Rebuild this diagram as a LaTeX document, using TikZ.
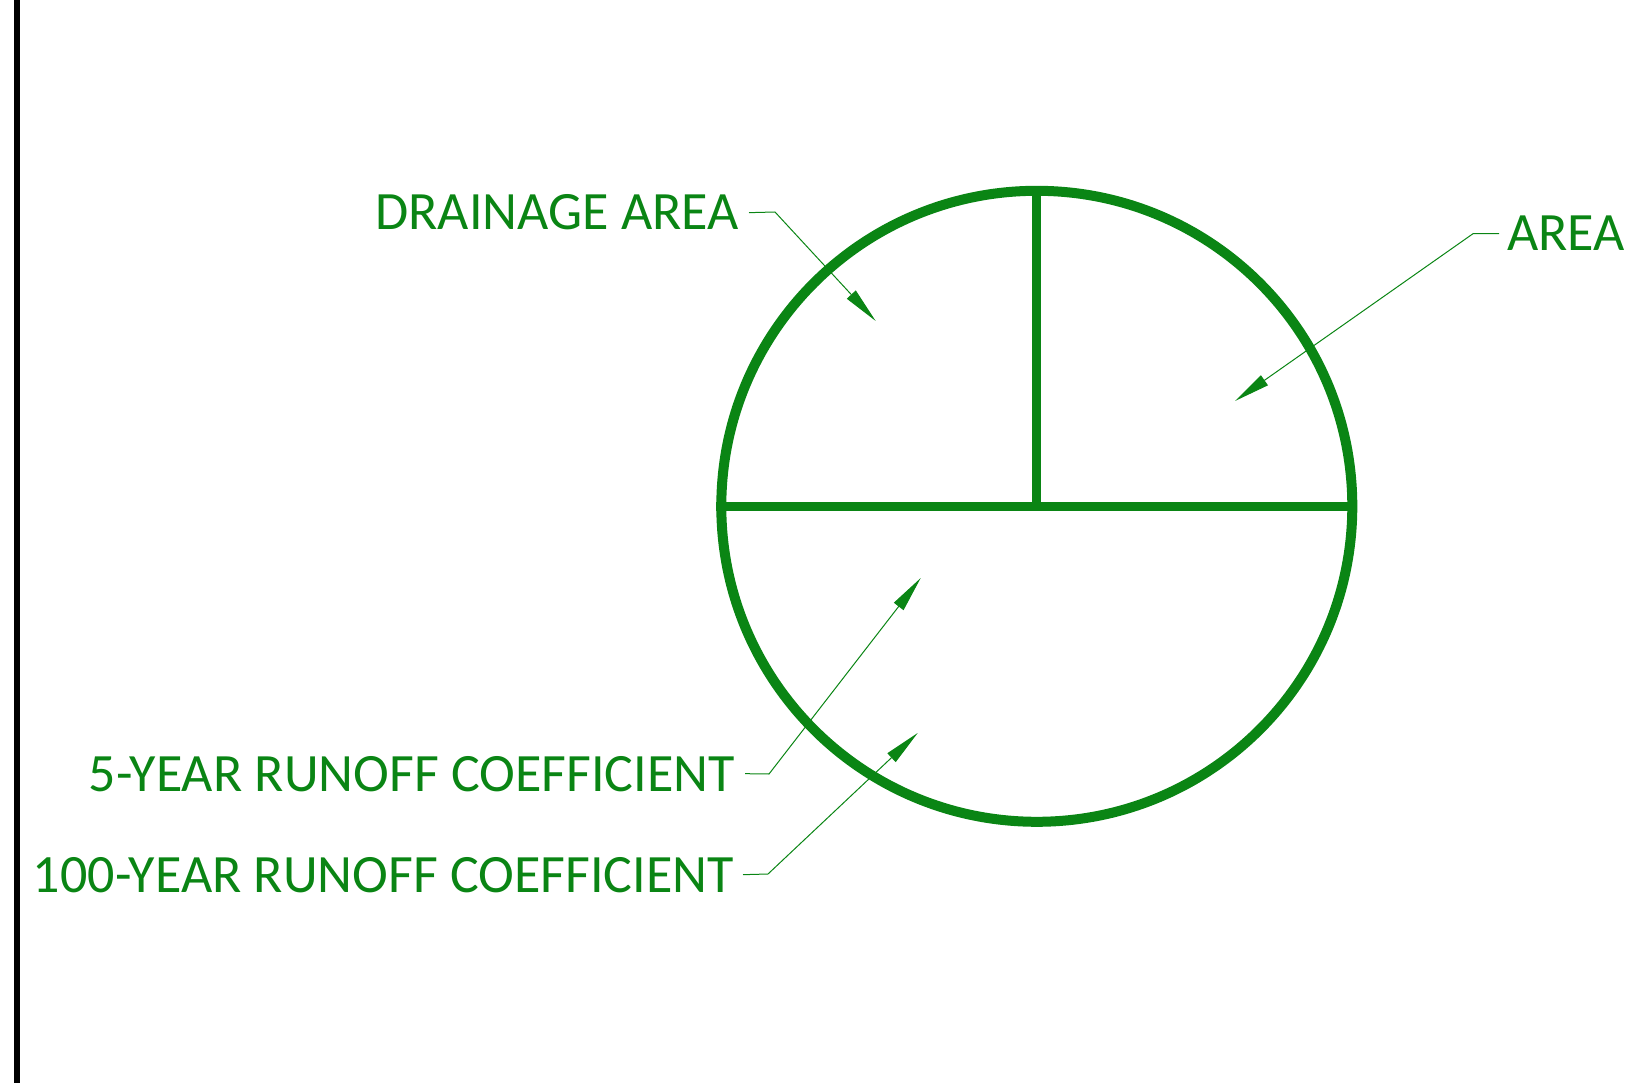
\documentclass[tikz,border=0pt]{standalone}
\usepackage{fontspec}
\setmainfont{Carlito}
\usetikzlibrary{arrows.meta}
\definecolor{planGreen}{RGB}{10,133,20}

\begin{document}
\begin{tikzpicture}[x=1pt,y=-1pt,
        lbl/.style={text=planGreen,font=\fontsize{54}{60}\selectfont,inner sep=0pt},
        lead/.style={-{Triangle[length=36pt,width=12pt]},planGreen,line width=1pt},
        ring/.style={draw=planGreen,line width=10pt,circle,inner sep=0pt,minimum size=631pt},
        split/.style={draw=planGreen,line width=9pt}]
        \useasboundingbox (0,0) rectangle (1627,1083);
        \coordinate (barTop) at (17,0); \coordinate (barBot) at (17,1083);
        \draw[line width=6.5pt] (barTop) -- (barBot);
        % the symbol
        \node[ring] (sym) at (1036.8,506.3) {};
        \draw[split] (sym.west) -- (sym.east);
        \draw[split] (sym.north) -- (sym.center);
        % labels
        \node[lbl,anchor=base east] (drain) at (739,230) {DRAINAGE AREA};
        \node[lbl,anchor=base west] (area) at (1507,251) {AREA};
        \node[lbl,anchor=base east] (c5) at (735,791) {5-YEAR RUNOFF COEFFICIENT};
        \node[lbl,anchor=base east] (c100) at (734,892) {100-YEAR RUNOFF COEFFICIENT};
        \coordinate (drainKnee) at (775,212); \coordinate (drainTip) at (875.7,321);
        \coordinate (areaKnee) at (1473,233.7); \coordinate (areaTip) at (1235,401);
        \coordinate (c5Knee) at (769,774); \coordinate (c5Tip) at (920.7,578);
        \coordinate (c100Knee) at (768,874); \coordinate (c100Tip) at (917.7,733);
        \draw[lead] ([xshift=10pt]drain.east) -- (drainKnee) -- (drainTip);
        \draw[lead] ([xshift=-8pt]area.west) -- (areaKnee) -- (areaTip);
        \draw[lead] ([xshift=10pt]c5.east) -- (c5Knee) -- (c5Tip);
        \draw[lead] ([xshift=9pt]c100.east) -- (c100Knee) -- (c100Tip);
\end{tikzpicture}
\end{document}
